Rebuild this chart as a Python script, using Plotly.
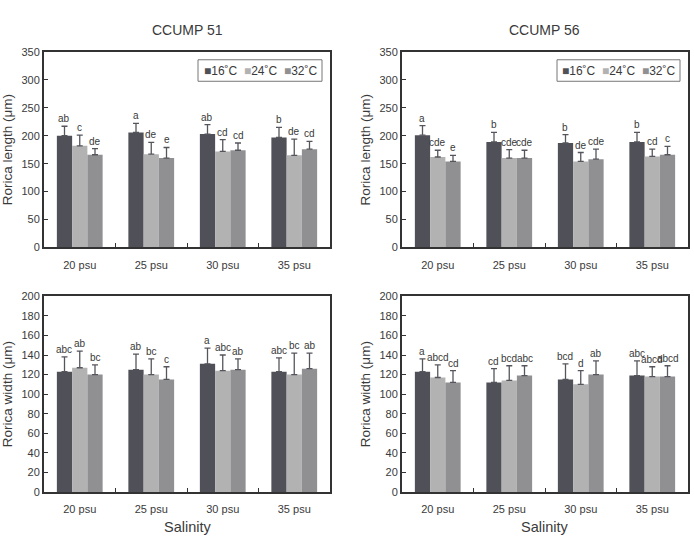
import plotly.graph_objects as go

W, H = 694, 537

salinity = ["20 psu", "25 psu", "30 psu", "35 psu"]
temps = ["16˚C", "24˚C", "32˚C"]
colors = ["#505158", "#b2b2b2", "#909093"]

# CCUMP 51 rorica length
l51_16 = [200, 206, 203, 197]
l51_24 = [182, 167, 172, 165]
l51_32 = [166, 160, 174, 176]
l51_e16 = [17, 16, 17, 18]
l51_e24 = [19, 21, 21, 29]
l51_e32 = [11, 19, 13, 14]
l51_lab16 = ["ab", "a", "ab", "b"]
l51_lab24 = ["c", "de", "cd", "de"]
l51_lab32 = ["de", "e", "cd", "cd"]

# CCUMP 56 rorica length
l56_16 = [201, 189, 187, 189]
l56_24 = [162, 160, 154, 163]
l56_32 = [154, 160, 158, 166]
l56_e16 = [17, 17, 15, 17]
l56_e24 = [12, 15, 16, 13]
l56_e32 = [11, 14, 18, 15]
l56_lab16 = ["a", "b", "b", "b"]
l56_lab24 = ["cde", "cde", "de", "cd"]
l56_lab32 = ["e", "cde", "cde", "c"]

# CCUMP 51 rorica width
w51_16 = [123, 125, 131, 123]
w51_24 = [127, 120, 124, 120]
w51_32 = [120, 115, 125, 126]
w51_e16 = [15, 16, 16, 14]
w51_e24 = [17, 16, 16, 22]
w51_e32 = [10, 13, 11, 16]
w51_lab16 = ["abc", "ab", "a", "abc"]
w51_lab24 = ["ab", "bc", "abc", "bc"]
w51_lab32 = ["bc", "c", "ab", "ab"]

# CCUMP 56 rorica width
w56_16 = [123, 112, 115, 119]
w56_24 = [117, 114, 110, 118]
w56_32 = [112, 119, 120, 118]
w56_e16 = [13, 14, 16, 15]
w56_e24 = [13, 15, 14, 10]
w56_e32 = [12, 10, 14, 11]
w56_lab16 = ["a", "cd", "bcd", "abc"]
w56_lab24 = ["abcd", "bcd", "d", "abcd"]
w56_lab32 = ["cd", "abc", "ab", "abcd"]

panels = [
    dict(vals=[l51_16, l51_24, l51_32], errs=[l51_e16, l51_e24, l51_e32],
         labs=[l51_lab16, l51_lab24, l51_lab32], xd=[44, 330], yd=[47, 247],
         rng=[0, 350], dt=50, ytitle="Rorica length (μm)", title="CCUMP 51",
         leg=[198, 322, 55, 77]),
    dict(vals=[l56_16, l56_24, l56_32], errs=[l56_e16, l56_e24, l56_e32],
         labs=[l56_lab16, l56_lab24, l56_lab32], xd=[402, 688], yd=[47, 247],
         rng=[0, 350], dt=50, ytitle="Rorica length (μm)", title="CCUMP 56",
         leg=[557, 680, 55, 77]),
    dict(vals=[w51_16, w51_24, w51_32], errs=[w51_e16, w51_e24, w51_e32],
         labs=[w51_lab16, w51_lab24, w51_lab32], xd=[44, 330], yd=[297, 497],
         rng=[0, 200], dt=20, ytitle="Rorica width (μm)", title=None, leg=None),
    dict(vals=[w56_16, w56_24, w56_32], errs=[w56_e16, w56_e24, w56_e32],
         labs=[w56_lab16, w56_lab24, w56_lab32], xd=[402, 688], yd=[297, 497],
         rng=[0, 200], dt=20, ytitle="Rorica width (μm)", title=None, leg=None),
]

fig = go.Figure()
annotations = []
shapes = []
bargap = 0.36
font = "Liberation Sans, Arial, sans-serif"
txtc = "#3a3a3a"

for i, p in enumerate(panels):
    n = "" if i == 0 else str(i + 1)
    xa, ya = "x" + n, "y" + n
    for k in range(3):
        fig.add_trace(go.Bar(
            x=salinity, y=p["vals"][k], name=temps[k],
            marker=dict(color=colors[k], line=dict(width=0)),
            error_y=dict(type="data", array=p["errs"][k], symmetric=False,
                         arrayminus=[0] * 4, color="#55565c", thickness=1.3, width=3),
            xaxis=xa, yaxis=ya, showlegend=False,
        ))
    # letter annotations
    catw = (p["xd"][1] - p["xd"][0]) / len(salinity)
    bw = catw * (1 - bargap) / 3
    for k in range(3):
        for j, s in enumerate(salinity):
            annotations.append(dict(
                x=s, y=p["vals"][k][j] + p["errs"][k][j], xref=xa, yref=ya,
                text=p["labs"][k][j], showarrow=False, yanchor="bottom", xanchor="center",
                xshift=(k - 1) * bw, yshift=0,
                font=dict(size=10, color=txtc, family=font)))
    xdom = [p["xd"][0] / W, p["xd"][1] / W]
    ydom = [1 - p["yd"][1] / H, 1 - p["yd"][0] / H]
    fig.update_layout(**{
        ("xaxis" + n): dict(domain=xdom, anchor=ya, showline=True, linecolor="#333333",
                            linewidth=2, mirror=True, ticks="inside", tickson="boundaries",
                            ticklen=4, tickcolor="#333333", ticklabelstandoff=6,
                            tickfont=dict(size=11, color=txtc, family=font),
                            showgrid=False, zeroline=False),
        ("yaxis" + n): dict(domain=ydom, anchor=xa, range=p["rng"], dtick=p["dt"],
                            showline=True, linecolor="#333333", linewidth=2, mirror=True,
                            ticks="inside", ticklen=4, tickcolor="#333333",
                            tickfont=dict(size=11, color=txtc, family=font),
                            showgrid=False, zeroline=False,
                            title=dict(text=p["ytitle"], standoff=6,
                                       font=dict(size=13.5, color=txtc, family=font))),
    })
    if p["title"]:
        annotations.append(dict(x=sum(xdom) / 2, y=1 - 25 / H, xref="paper", yref="paper",
                                text=p["title"], showarrow=False, yanchor="middle",
                                xanchor="center",
                                font=dict(size=14, color=txtc, family=font)))
    if i >= 2:
        annotations.append(dict(x=sum(xdom) / 2, y=0, xref="paper", yref="paper",
                                text="Salinity", showarrow=False, yanchor="bottom",
                                xanchor="center", yshift=-6,
                                font=dict(size=14.5, color=txtc, family=font)))
    if p["leg"]:
        x0, x1, y0, y1 = p["leg"]
        shapes.append(dict(type="rect", xref="paper", yref="paper",
                           x0=x0 / W, x1=x1 / W, y0=1 - y1 / H, y1=1 - y0 / H,
                           line=dict(color="#777777", width=1), fillcolor="white"))
        legtext = "  ".join(
            f"<span style='color:{c}'>■</span>{t}" for c, t in zip(colors, temps))
        annotations.append(dict(x=(x0 + x1) / 2 / W, y=1 - (y0 + y1) / 2 / H,
                                xref="paper", yref="paper", text=legtext,
                                showarrow=False, xanchor="center", yanchor="middle",
                                font=dict(size=12, color=txtc, family=font)))

fig.update_layout(
    width=W, height=H,
    margin=dict(l=0, r=0, t=0, b=0),
    paper_bgcolor="white", plot_bgcolor="white",
    barmode="group", bargap=bargap, bargroupgap=0,
    showlegend=False,
    annotations=annotations,
    shapes=shapes,
)

fig.write_html("out.html")
